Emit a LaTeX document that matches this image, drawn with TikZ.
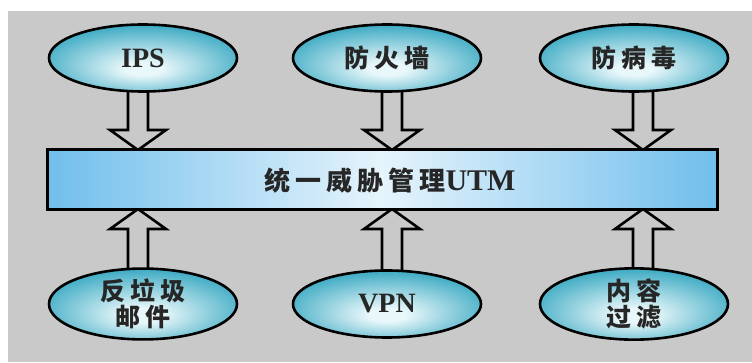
\documentclass[tikz,border=0pt]{standalone}
\usepackage{fontspec}
\setmainfont{Liberation Serif}
\newfontfamily\cjk{Noto Sans CJK SC}
\usetikzlibrary{shapes.geometric,calc,backgrounds}

\definecolor{bggray}{RGB}{201,201,201}
\definecolor{ellout}{RGB}{52,166,192}
\definecolor{ellin}{RGB}{232,247,250}
\definecolor{rectside}{RGB}{112,190,236}
\definecolor{rectmid}{RGB}{230,244,252}
\pgfdeclareradialshading{ellshade}{\pgfpoint{0bp}{-9bp}}{color(0bp)=(ellin); color(5bp)=(ellin); color(30bp)=(ellout); color(50bp)=(ellout)}

\newcommand\ksp{\hspace{5pt}}

\tikzset{
  oval/.style={ellipse, draw=black, line width=2.6pt, shading=ellshade,
    minimum width=188pt, minimum height=67pt, inner sep=0pt, outer sep=0pt,
    text=black!85, align=center},
  cjktext/.style={font=\cjk\bfseries\fontsize{25}{26}\selectfont},
  latintext/.style={font=\bfseries\fontsize{28}{30}\selectfont},
  utmbox/.style={draw=black, line width=3pt, left color=rectside, right color=rectside,
    middle color=rectmid, minimum width=670pt, minimum height=59pt, inner sep=0pt, outer sep=0pt},
  utmtext/.style={text=black!85, inner sep=0pt, font=\cjk\bfseries\fontsize{26}{28}\selectfont},
  blockarrow/.style={draw=black, fill=bggray, line width=2.6pt, line join=miter},
}

\newcommand\arrowdown[3]{%
  \draw[blockarrow] let \p1=($(#1.south)+(#3,0)$), \p2=(#2.north) in
    (\x1-10pt,\y1+8pt) -- (\x1-10pt,\y2+20pt) -- (\x1-28pt,\y2+20pt) -- (\x1,\y2)
    -- (\x1+28pt,\y2+20pt) -- (\x1+10pt,\y2+20pt) -- (\x1+10pt,\y1+8pt) -- cycle;}
\newcommand\arrowup[3]{%
  \draw[blockarrow] let \p1=($(#1.north)+(#3,0)$), \p2=(#2.south) in
    (\x1-10pt,\y1-8pt) -- (\x1-10pt,\y2-20pt) -- (\x1-28pt,\y2-20pt) -- (\x1,\y2)
    -- (\x1+28pt,\y2-20pt) -- (\x1+10pt,\y2-20pt) -- (\x1+10pt,\y1-8pt) -- cycle;}

\begin{document}
\begin{tikzpicture}[x=1pt,y=1pt]
\useasboundingbox (0,0) rectangle (752,362);

% top row
\node[oval, latintext] (ips) at (143,304) {IPS};
\node[oval, cjktext] (fw) at (387,304) {防\ksp 火\ksp 墙};
\node[oval, cjktext] (av) at (634,304) {防\ksp 病\ksp 毒};

% central box
\node[utmbox] (utm) at (382,182.5) {};
\node[utmtext] (utmlabel) at ($(utm.center)+(8,-1)$)
  {统\ksp 一\ksp 威\ksp 胁\ksp 管\ksp 理{\rmfamily\bfseries\fontsize{30}{30}\selectfont UTM}};

% bottom row
\node[oval, cjktext] (spam) at (143,58) {反\ksp 垃\ksp 圾\\邮\ksp 件};
\node[oval, latintext] (vpn) at (387,58) {VPN};
\node[oval, cjktext] (filter) at (634,58) {内\ksp 容\\过\ksp 滤};

\begin{scope}[on background layer]
  \fill[white] (0,0) rectangle (752,362);
  \fill[bggray] (8,0) rectangle (752,351);
  \arrowdown{ips}{utm}{-5}
  \arrowdown{fw}{utm}{5}
  \arrowdown{av}{utm}{9}
  \arrowup{spam}{utm}{-5}
  \arrowup{vpn}{utm}{5}
  \arrowup{filter}{utm}{9}
\end{scope}
\end{tikzpicture}
\end{document}
